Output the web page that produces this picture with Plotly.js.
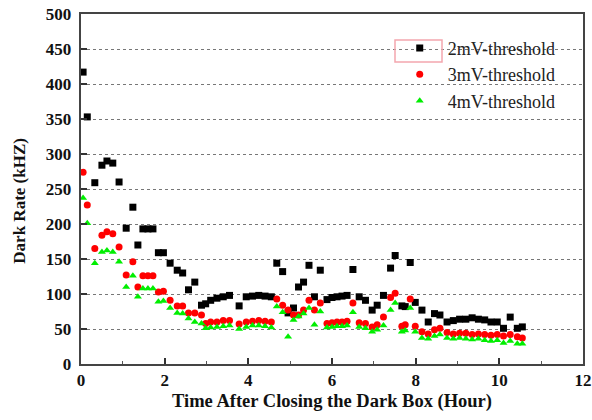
<!DOCTYPE html>
<html>
<head>
<meta charset="utf-8">
<script src="https://cdn.plot.ly/plotly-3.0.1.min.js"></script>
<style>html,body{margin:0;padding:0;background:#fff;}#chart{width:592px;height:420px;}</style>
</head>
<body>
<div id="chart"></div>
<script>
// Time after closing the dark box (hours)
const timeHours = [
  0.05, 0.15, 0.33, 0.5, 0.62, 0.76, 0.91, 1.08, 1.24, 1.36, 1.48, 1.6, 1.72, 1.85, 1.97,
  2.13, 2.3, 2.43, 2.57, 2.72, 2.88,
  2.98, 3.1, 3.25, 3.4, 3.55, 3.78, 3.95, 4.1, 4.25, 4.4, 4.55,
  4.68, 4.82, 4.95, 5.08, 5.2, 5.32, 5.45, 5.58, 5.72,
  5.88, 6.0, 6.12, 6.24, 6.36,
  6.5, 6.65, 6.8, 6.96, 7.08, 7.23, 7.4, 7.51, 7.67, 7.75, 7.87, 7.99, 8.15,
  8.3, 8.45, 8.58, 8.75, 8.9, 9.05, 9.2, 9.35, 9.5, 9.65, 9.8, 9.95, 10.1, 10.26, 10.43, 10.55
];
// Dark rate (kHz)
const rate2mV = [
  417, 353, 259, 284, 290, 287, 260, 194, 224, 170, 193, 193, 193, 159, 159,
  144, 134, 130, 106, 117, 84,
  86, 91, 94, 96, 98, 83, 96, 97, 98, 97, 96,
  144, 132, 73, 80, 110, 117, 141, 96, 134,
  92, 95, 96, 97, 98,
  135, 96, 91, 77, 84, 98, 137, 155, 83, 82, 145, 88, 77,
  60, 72, 70, 60, 62, 64, 64, 66, 64, 63, 60, 60, 51, 67, 51, 53
];
const rate3mV = [
  274, 227, 165, 184, 189, 186, 167, 127, 146, 110, 126, 126, 126, 103, 104,
  91, 83, 83, 73, 73, 70,
  58, 60, 60, 62, 62, 57, 60, 61, 62, 61, 60,
  93, 84, 77, 70, 70, 77, 91, 77, 87,
  58, 59, 60, 60, 61,
  87, 59, 58, 53, 56, 67, 95, 101, 54, 56, 93, 54, 46,
  43, 49, 51, 45, 43, 44, 44, 42, 43, 42, 41, 42, 40, 42, 39, 37
];
const rate4mV = [
  237, 201, 144, 160, 162, 160, 146, 110, 126, 96, 108, 108, 108, 89, 90,
  80, 73, 72, 65, 60, 58,
  51, 52, 53, 54, 55, 50, 53, 55, 55, 54, 52,
  82, 74, 39, 63, 68, 72, 80, 56, 75,
  52, 53, 54, 54, 55,
  74, 53, 51, 46, 49, 55, 77, 87, 46, 48, 80, 46, 37,
  36, 40, 42, 37, 36, 37, 36, 35, 36, 34, 33, 34, 30, 33, 29, 29
];
const seriesNames = ['2mV-threshold', '3mV-threshold', '4mV-threshold'];
const xTicks = [0, 2, 4, 6, 8, 10, 12];
const yTicks = [0, 50, 100, 150, 200, 250, 300, 350, 400, 450, 500];
const xTitle = 'Time After Closing the Dark Box (Hour)';
const yTitle = 'Dark Rate (kHZ)';

const serif = '"Liberation Serif", "Times New Roman", serif';

const traces = [
  {x: timeHours, y: rate2mV, name: seriesNames[0], type: 'scatter', mode: 'markers',
   marker: {symbol: 'square', size: 7, color: '#000000'}},
  {x: timeHours, y: rate3mV, name: seriesNames[1], type: 'scatter', mode: 'markers',
   marker: {symbol: 'circle', size: 7, color: '#ff0000'}},
  {x: timeHours, y: rate4mV, name: seriesNames[2], type: 'scatter', mode: 'markers',
   marker: {symbol: 'triangle-up', size: 7, color: '#00ee00'}}
];

const layout = {
  width: 592, height: 420,
  margin: {l: 81, r: 9, t: 14, b: 56},
  paper_bgcolor: '#ffffff', plot_bgcolor: '#ffffff',
  showlegend: true,
  legend: {x: 0.619, y: 0.955, xanchor: 'left', yanchor: 'top', itemwidth: 46,
    font: {family: serif, size: 18, color: '#222'}, bgcolor: 'rgba(0,0,0,0)', tracegroupgap: 0},
  xaxis: {
    range: [0, 12], tickvals: xTicks, ticktext: xTicks.map(String),
    ticks: 'inside', ticklen: 6, tickwidth: 2, tickcolor: '#333',
    minor: {dtick: 1, ticks: 'inside', ticklen: 3, tickwidth: 1, tickcolor: '#555'},
    showline: true, linecolor: '#444', linewidth: 2, mirror: true,
    showgrid: false, zeroline: false,
    tickfont: {family: serif, size: 17, color: '#111', weight: 'bold'},
    title: {text: '<b>' + xTitle + '</b>', font: {family: serif, size: 18.5, color: '#111'}, standoff: 5}
  },
  yaxis: {
    range: [0, 500], tickvals: yTicks, ticktext: yTicks.map(v => v + '\u00a0'),
    ticks: 'inside', ticklen: 6, tickwidth: 2, tickcolor: '#333',
    showline: true, linecolor: '#444', linewidth: 2, mirror: true,
    showgrid: true, gridcolor: '#777', gridwidth: 1, griddash: 'dot',
    zeroline: false,
    tickfont: {family: serif, size: 17, color: '#111', weight: 'bold'}
  },
  annotations: [
    {text: '<b>' + yTitle + '</b>', xref: 'paper', yref: 'paper', x: -0.122, y: 0.466,
     xanchor: 'center', yanchor: 'middle', textangle: -90, showarrow: false,
     font: {family: serif, size: 17, color: '#111'}}
  ],
  shapes: [
    {type: 'rect', xref: 'paper', yref: 'paper', x0: (395 - 81) / 502, x1: (442 - 81) / 502,
     y0: (364 - 62) / 350, y1: (364 - 40) / 350, line: {color: '#f4a6ae', width: 1.5}}
  ]
};

Plotly.newPlot('chart', traces, layout, {displayModeBar: false, staticPlot: true});
</script>
</body>
</html>
